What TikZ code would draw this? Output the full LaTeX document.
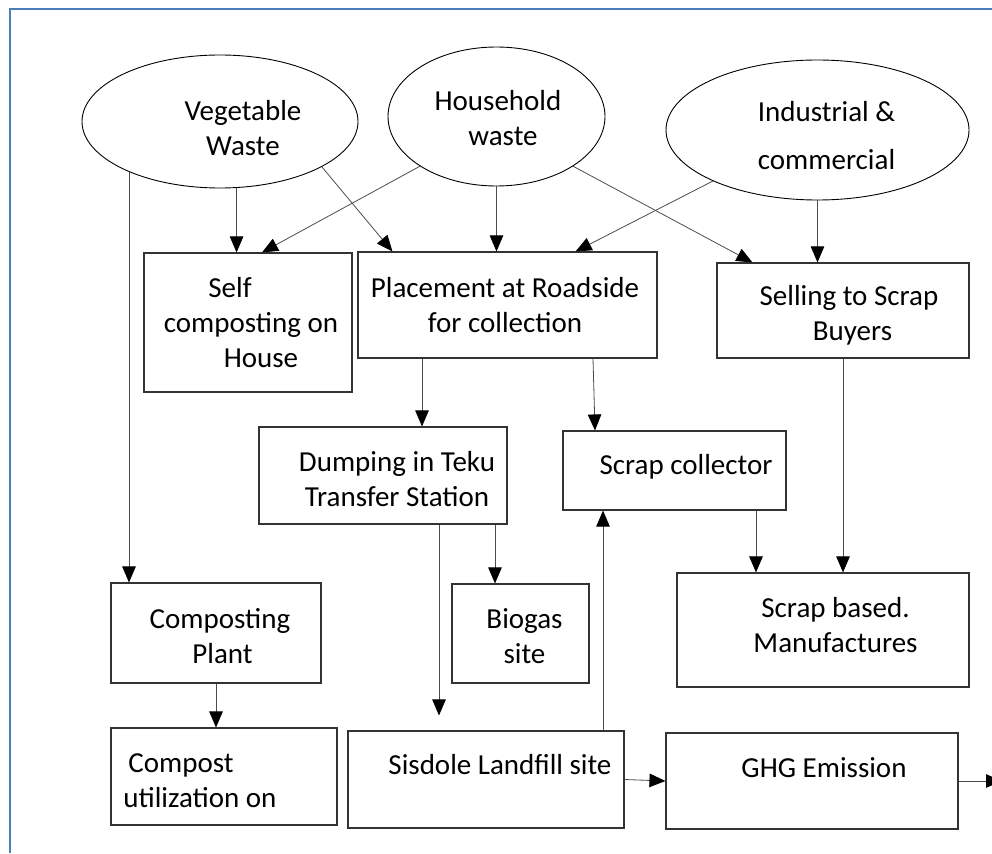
\documentclass[tikz,border=0pt]{standalone}
\usepackage{fontspec}
\setmainfont{Carlito}
\usetikzlibrary{arrows.meta,shapes.geometric}
\definecolor{framecol}{RGB}{74,126,187}
\begin{document}
\begin{tikzpicture}[x=1pt, y=-1pt, >={Triangle[length=16pt,width=13.5pt,color=black]},
	src/.style={ellipse, draw, line width=0.9pt, inner sep=0pt},
	box/.style={rectangle, draw=black!80, line width=1.1pt, inner sep=0pt},
	lbl/.style={align=center, inner sep=0pt, font=\fontsize{29}{35}\selectfont},
	link/.style={->, draw=black!70, line width=0.8pt}]
	\useasboundingbox (0,0) rectangle (992,853);
	\draw[framecol, line width=1.3pt] (10,853) -- (10,9) -- (992,9);
	\node[src, minimum width=276pt, minimum height=133pt, label={[lbl, xshift=23pt, yshift=-6.5pt]center:{Vegetable\\Waste}}] (veg) at (220,121.5) {};
	\node[src, minimum width=217pt, minimum height=139pt, label={[lbl, xshift=6.5pt, yshift=-1.5pt]center:{Household\hspace*{10pt}\\waste}}] (house) at (496.5,116.5) {};
	\node[src, minimum width=303pt, minimum height=140pt, label={[lbl, xshift=9pt, yshift=-6pt]center:{Industrial \&\\[13pt]commercial}}] (ind) at (817.5,130) {};
	\node[box, minimum width=208pt, minimum height=139pt, label={[lbl, xshift=3pt]center:{Self\hspace*{42pt}\\composting on\\\hspace*{20pt}House}}] (self) at (248,322.5) {};
	\node[box, minimum width=299pt, minimum height=106pt, label={[lbl, xshift=-2.5pt]center:{Placement at Roadside\\for collection}}] (place) at (507.5,305) {};
	\node[box, minimum width=252pt, minimum height=95pt, label={[lbl, xshift=9.5pt, yshift=-5pt]center:{Selling to Scrap\hspace*{7pt}\\Buyers}}] (sell) at (843,310.5) {};
	\node[box, minimum width=248pt, minimum height=97pt, label={[lbl, xshift=14pt, yshift=-4pt]center:{Dumping in Teku\\Transfer Station}}] (dump) at (383,475.5) {};
	\node[box, minimum width=223pt, minimum height=79pt, label={[lbl, xshift=11.5pt, yshift=3.5pt]center:{Scrap collector}}] (coll) at (674.5,470.5) {};
	\node[box, minimum width=210pt, minimum height=100pt, label={[lbl, xshift=6.5pt, yshift=-3pt]center:{Composting\hspace*{5pt}\\Plant}}] (cplant) at (216,633) {};
	\node[box, minimum width=226pt, minimum height=97pt, label={[lbl, align=left, xshift=-24pt, yshift=-4pt]center:{\hspace*{5pt}Compost\\utilization on}}] (util) at (224,776.5) {};
	\node[box, minimum width=137pt, minimum height=99pt, label={[lbl, xshift=4pt, yshift=-2.5pt]center:{Biogas\\site}}] (biogas) at (520.5,633.5) {};
	\node[box, minimum width=292pt, minimum height=114pt, label={[lbl, xshift=12.5pt, yshift=4.5pt]center:{Scrap based.\\Manufactures}}] (manuf) at (823,630) {};
	\node[box, minimum width=276pt, minimum height=97pt, label={[lbl, xshift=14pt, yshift=14.5pt]center:{Sisdole Landfill site}}] (land) at (486,779.5) {};
	\node[box, minimum width=292pt, minimum height=96pt, label={[lbl, xshift=12pt, yshift=13pt]center:{GHG Emission}}] (ghg) at (812,781) {};
	\coordinate (emit) at (1002,781);
	\draw[link] (veg.-76) -- (veg.-76 |- self.north);
	\draw[link] (house.-147) -- ([xshift=14pt]self.north);
	\draw[link] (veg.-24.5) -- ([xshift=35pt]place.north west);
	\draw[link] (house.south) -- (house.south |- place.north);
	\draw[link] (ind.-154) -- ([xshift=-82pt]place.north east);
	\draw[link] (house.-33) -- ([xshift=36pt]sell.north west);
	\draw[link] (ind.south) -- (ind.south |- sell.north);
	\draw[link] (veg.-151.4) -- (veg.-151.4 |- cplant.north);
	\draw[link] (cplant.south) -- (cplant.south |- util.north);
	\draw[link] ([xshift=-85.5pt]place.south) -- ([xshift=39pt]dump.north);
	\draw[link] ([xshift=85.5pt]place.south) -- ([xshift=-79.5pt]coll.north);
	\draw[link] ([xshift=56pt]dump.south) -- ([xshift=-47pt,yshift=15pt]land.north);
	\draw[link] ([xshift=112pt]dump.south) -- ([xshift=-25.5pt]biogas.north);
	\draw[link] ([xshift=117pt]land.north) -- ([xshift=-71.5pt]coll.south);
	\draw[link] ([xshift=81.5pt]coll.south) -- ([xshift=-67pt]manuf.north);
	\draw[link] (sell.south) -- (sell.south |- manuf.north);
	\draw[link] (land.east) -- (ghg.west);
	\draw[link] (ghg.east) -- (emit);
\end{tikzpicture}
\end{document}
